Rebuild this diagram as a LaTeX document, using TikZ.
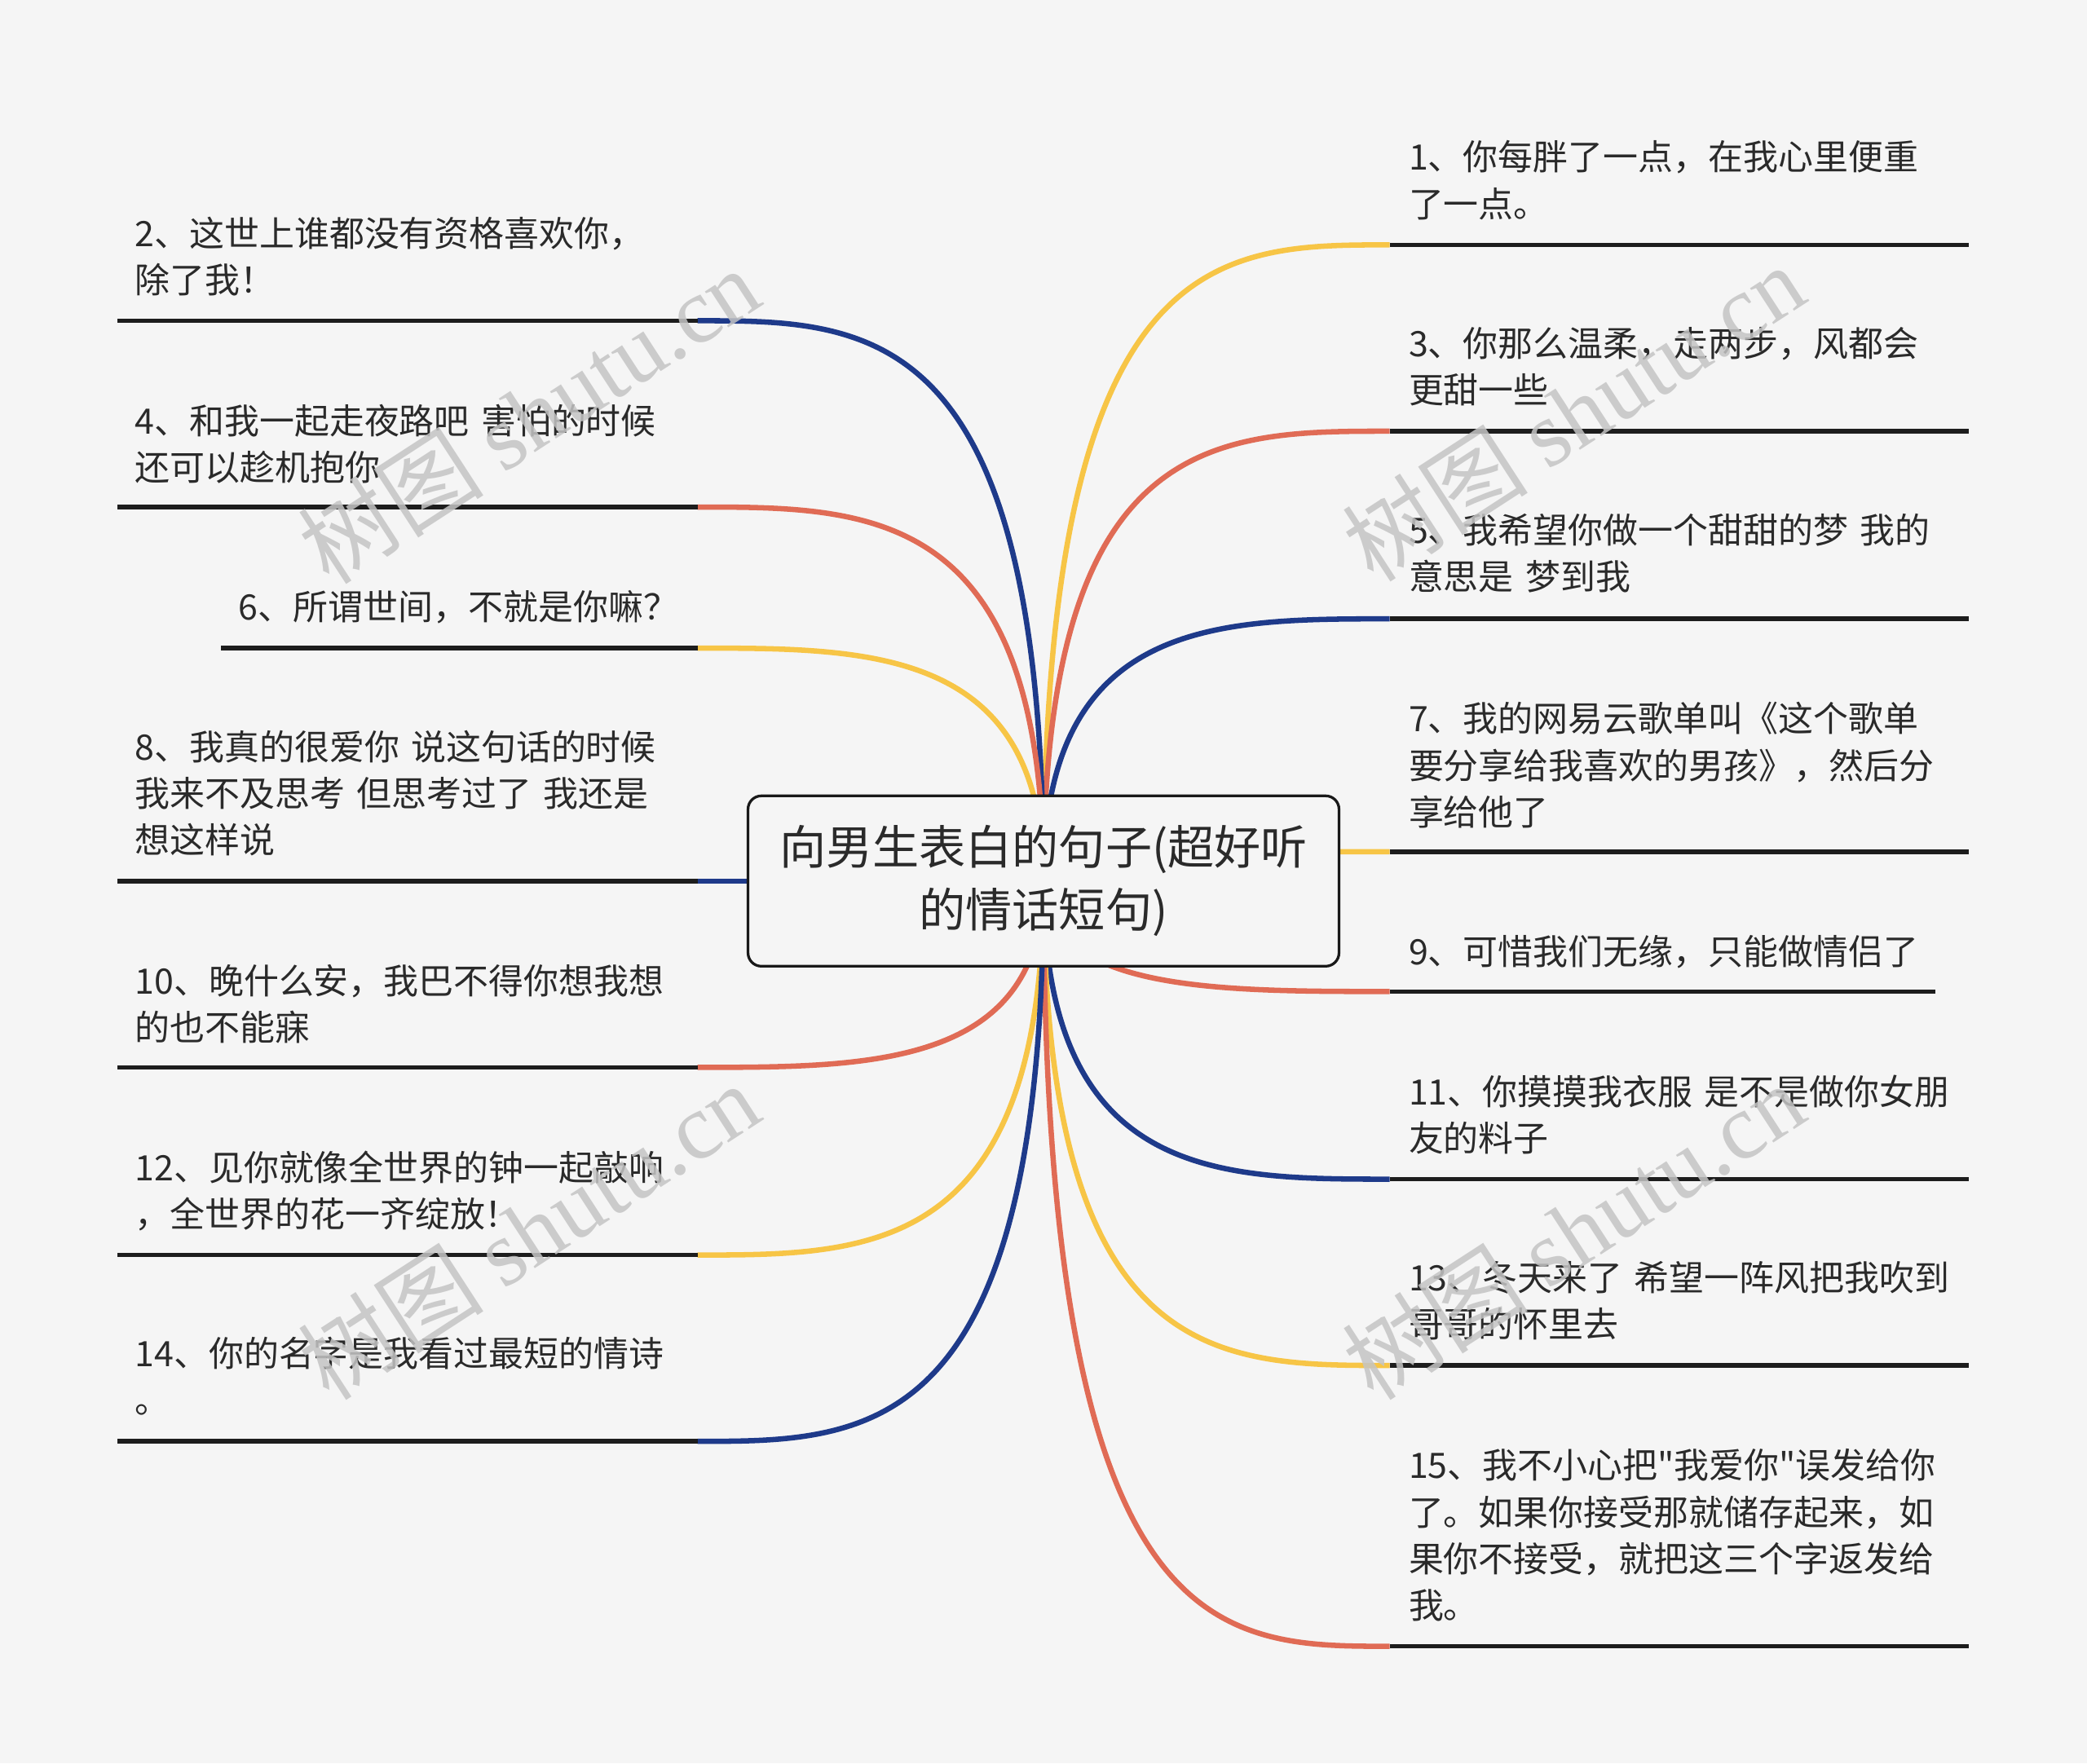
\documentclass[tikz,border=0pt]{standalone}
\usepackage{fontspec}
\setmainfont{Noto Sans CJK SC}
\newfontfamily\rawcjk{Noto Sans CJK SC}[Ligatures=TeXOff]
\newfontfamily\wmserif{Liberation Serif}
\usetikzlibrary{calc}
\definecolor{bg}{HTML}{F5F5F5}
\definecolor{navy}{HTML}{1E3A8A}
\definecolor{coral}{HTML}{E06B55}
\definecolor{gold}{HTML}{F7C546}
\definecolor{ink}{HTML}{2A2A2A}
\definecolor{wm}{HTML}{C4C4C4}
\begin{document}
\begin{tikzpicture}[x=0.5pt,y=-0.5pt,
  conn/.style={line width=2pt},
  uline/.style={line width=1.7pt, draw=ink!70!black},
  lbl/.style={anchor=base west, inner sep=0pt, align=left, text width=230pt,
    font=\fontsize{13.15pt}{17.5pt}\selectfont, text=ink},
  rootbox/.style={draw=ink!60!black, line width=1pt, fill=bg, rounded corners=5pt},
  roottext/.style={align=center, inner sep=0pt, font=\fontsize{17.5pt}{23.5pt}\selectfont, text=ink},
  wmark/.style={rotate=33, text=wm, opacity=0.85, inner sep=0pt, font=\fontsize{35pt}{35pt}\selectfont}]
\useasboundingbox (0,0) rectangle (1568,1325);
\fill[bg] (0,0) rectangle (1568,1325);

\coordinate (c) at (784,662);
% right branch starts / ends
\coordinate (e1) at (1044,184);  \coordinate (f1) at (1479,184);
\coordinate (e3) at (1044,324);  \coordinate (f3) at (1479,324);
\coordinate (e5) at (1044,465);  \coordinate (f5) at (1479,465);
\coordinate (e7) at (1044,640);  \coordinate (f7) at (1479,640);
\coordinate (e9) at (1044,745);  \coordinate (f9) at (1454,745);
\coordinate (e11) at (1044,886); \coordinate (f11) at (1479,886);
\coordinate (e13) at (1044,1026); \coordinate (f13) at (1479,1026);
\coordinate (e15) at (1044,1237); \coordinate (f15) at (1479,1237);
% left
\coordinate (e2) at (524,241);  \coordinate (f2) at (88,241);
\coordinate (e4) at (524,381);  \coordinate (f4) at (88,381);
\coordinate (e6) at (524,487);  \coordinate (f6) at (166,487);
\coordinate (e8) at (524,662);  \coordinate (f8) at (88,662);
\coordinate (e10) at (524,802); \coordinate (f10) at (88,802);
\coordinate (e12) at (524,943); \coordinate (f12) at (88,943);
\coordinate (e14) at (524,1083); \coordinate (f14) at (88,1083);

% connectors
\foreach \i/\col in {1/gold,3/coral,5/navy,7/gold,9/coral,11/navy,13/gold,15/coral,
                     2/navy,4/coral,6/gold,8/navy,10/coral,12/gold,14/navy}{
  \draw[conn,\col] (c) .. controls (c |- e\i) and ($(c |- e\i)!0.5!(e\i)$) .. (e\i);
}

% root
\draw[rootbox] (562,598) rectangle (1006,726);
\node[roottext] (root) at (784,662) {向男生表白的句子(超好听\\的情话短句)};

% underlines
\foreach \i in {1,3,5,7,9,11,13,15,2,4,6,8,10,12,14}{
  \draw[uline] (e\i) -- (f\i);
}

% labels right
\node[lbl] (t1) at (1058,128) {1、你每胖了一点，在我心里便重\\了一点。};
\node[lbl] (t3) at (1058,268) {3、你那么温柔，走两步，风都会\\更甜一些};
\node[lbl] (t5) at (1058,408) {5、我希望你做一个甜甜的梦 我的\\意思是 梦到我};
\node[lbl] (t7) at (1058,550) {7、我的网易云歌单叫《这个歌单\\要分享给我喜欢的男孩》，然后分\\享给他了};
\node[lbl] (t9) at (1058,725) {9、可惜我们无缘，只能做情侣了};
\node[lbl] (t11) at (1058,830) {11、你摸摸我衣服 是不是做你女朋\\友的料子};
\node[lbl] (t13) at (1058,970) {13、冬天来了 希望一阵风把我吹到\\哥哥的怀里去};
\node[lbl] (t15) at (1058,1111) {15、我不小心把{\rawcjk "}我爱你{\rawcjk "}误发给你\\了。如果你接受那就储存起来，如\\果你不接受，就把这三个字返发给\\我。};
% labels left
\node[lbl] (t2) at (101,185) {2、这世上谁都没有资格喜欢你，\\除了我！};
\node[lbl] (t4) at (101,326) {4、和我一起走夜路吧 害怕的时候\\还可以趁机抱你};
\node[lbl] (t6) at (179,466) {6、所谓世间，不就是你嘛？};
\node[lbl] (t8) at (101,571) {8、我真的很爱你 说这句话的时候\\我来不及思考 但思考过了 我还是\\想这样说};
\node[lbl] (t10) at (101,747) {10、晚什么安，我巴不得你想我想\\的也不能寐};
\node[lbl] (t12) at (101,887) {12、见你就像全世界的钟一起敲响\\，全世界的花一齐绽放！};
\node[lbl] (t14) at (101,1027) {14、你的名字是我看过最短的情诗\\。};

% watermarks
\node[wmark] (w1) at (397,312) {树图 {\wmserif shutu.cn}};
\node[wmark] (w2) at (1182,310) {树图 {\wmserif shutu.cn}};
\node[wmark] (w3) at (397,925) {树图 {\wmserif shutu.cn}};
\node[wmark] (w4) at (1182,925) {树图 {\wmserif shutu.cn}};
\end{tikzpicture}
\end{document}
